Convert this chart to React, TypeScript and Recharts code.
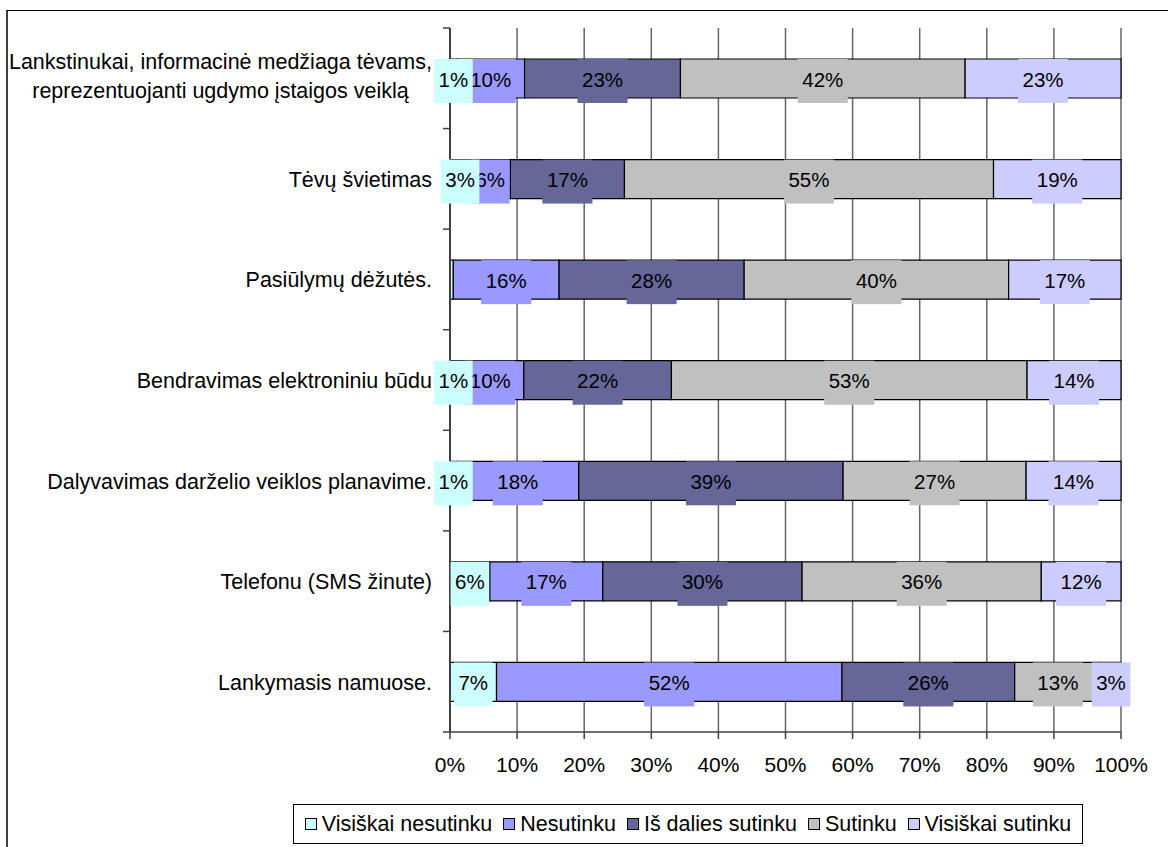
import React from 'react';
import { BarChart, Bar, XAxis, YAxis, CartesianGrid, LabelList } from 'recharts';

// Categories, top to bottom ("\n" = line break in the axis label)
const CATEGORIES = [
  'Lankstinukai, informacinė medžiaga tėvams,\nreprezentuojanti ugdymo įstaigos veiklą',
  'Tėvų švietimas',
  'Pasiūlymų dėžutės.',
  'Bendravimas elektroniniu būdu',
  'Dalyvavimas darželio veiklos planavime.',
  'Telefonu (SMS žinute)',
  'Lankymasis namuose.',
];

// Answer shares in %, same order as CATEGORIES
const VISISKAI_NESUTINKU = [1, 3, 0.5, 1, 1, 6, 7];
const NESUTINKU = [10, 6, 16, 10, 18, 17, 52];
const IS_DALIES_SUTINKU = [23, 17, 28, 22, 39, 30, 26];
const SUTINKU = [42, 55, 40, 53, 27, 36, 13];
const VISISKAI_SUTINKU = [23, 19, 17, 14, 14, 12, 3];

const SERIES_NAMES = ['Visiškai nesutinku', 'Nesutinku', 'Iš dalies sutinku', 'Sutinku', 'Visiškai sutinku'];
const SERIES_VALUES = [VISISKAI_NESUTINKU, NESUTINKU, IS_DALIES_SUTINKU, SUTINKU, VISISKAI_SUTINKU];
const COLORS = ['#CCFFFF', '#9999FF', '#666699', '#C0C0C0', '#CCCCFF'];

const X_TICKS = [0, 10, 20, 30, 40, 50, 60, 70, 80, 90, 100];

const FONT = "'Liberation Sans', Arial, Helvetica, sans-serif";
const CAT_FONT = 21.5;
const TICK_FONT = 21;
const LABEL_FONT = 20.5;
const LEGEND_FONT = 21.5;

const W = 1168;
const H = 847;
const MARGIN = { top: 28, right: 47, bottom: 65, left: 10 };
const Y_AXIS_W = 440;
const X_AXIS_H = 50;
const PLOT_H = H - MARGIN.top - MARGIN.bottom - X_AXIS_H;
const BAND = PLOT_H / CATEGORIES.length;
const TICK_GAP = 18;

const keys = SERIES_NAMES.map((_, i) => `s${i}`);

const data = CATEGORIES.map((name, r) => {
  const row: Record<string, any> = { name };
  SERIES_VALUES.forEach((vals, i) => {
    row[keys[i]] = vals[r];
  });
  return row;
});

let ctx: CanvasRenderingContext2D | null = null;
const textWidth = (s: string, size: number) => {
  if (!ctx) ctx = document.createElement('canvas').getContext('2d');
  if (!ctx) return s.length * size * 0.55;
  ctx.font = `${size}px ${FONT}`;
  return ctx.measureText(s).width;
};

// boxed value label; the label stack is drawn after the bars so boxes sit on top
const makeLabel = (color: string) => (props: any) => {
  const vb = props.viewBox || props;
  const { x, y, width, height } = vb;
  const value = Number(props.value);
  if (!isFinite(value) || value < 1) return null;
  const text = `${Math.round(value)}%`;
  const w = textWidth(text, LABEL_FONT) + 9;
  const cx = x + width / 2;
  return (
    <g>
      <rect x={cx - w / 2} y={y} width={w} height={height + 5} fill={color} />
      <text x={cx} y={y + height / 2 + 8} textAnchor="middle" fontSize={LABEL_FONT} fontFamily={FONT} fill="#000">
        {text}
      </text>
    </g>
  );
};

const CategoryTick = (props: any) => {
  const { x, y, payload, index } = props;
  const lines = String(payload.value).split('\n');
  const axisX = x + TICK_GAP;
  const blockW = Math.max(...lines.map((l) => textWidth(l, CAT_FONT)));
  const lineH = 29;
  const startY = y - ((lines.length - 1) * lineH) / 2 + 8 - (lines.length > 1 ? 3 : 0);
  return (
    <g>
      <line x1={axisX - 7} x2={axisX} y1={y - BAND / 2} y2={y - BAND / 2} stroke="#404040" strokeWidth={1.5} />
      {index === CATEGORIES.length - 1 && (
        <line x1={axisX - 7} x2={axisX} y1={y + BAND / 2} y2={y + BAND / 2} stroke="#404040" strokeWidth={1.5} />
      )}
      {lines.map((l, i) => (
        <text
          key={i}
          x={lines.length > 1 ? x - blockW / 2 : x}
          y={startY + i * lineH}
          textAnchor={lines.length > 1 ? 'middle' : 'end'}
          fontSize={CAT_FONT}
          fontFamily={FONT}
          fill="#000"
        >
          {l}
        </text>
      ))}
    </g>
  );
};

const LegendBox = () => (
  <div
    style={{
      position: 'absolute',
      left: 293,
      top: 804,
      width: 790,
      height: 40,
      boxSizing: 'border-box',
      border: '1px solid #000',
      background: '#fff',
      display: 'flex',
      alignItems: 'center',
      justifyContent: 'center',
      fontFamily: FONT,
      fontSize: LEGEND_FONT,
      color: '#000',
      whiteSpace: 'nowrap',
    }}
  >
    {SERIES_NAMES.map((n, i) => (
      <span key={n} style={{ display: 'inline-flex', alignItems: 'center', marginLeft: i > 0 ? 11 : 0 }}>
        <span
          style={{
            display: 'inline-block',
            boxSizing: 'border-box',
            width: 12,
            height: 12,
            border: '1px solid #000',
            background: COLORS[i],
            marginRight: 5,
          }}
        />
        {n}
      </span>
    ))}
  </div>
);

export default function App() {
  return (
    <div style={{ position: 'fixed', left: 0, top: 0, width: W, height: H, overflow: 'hidden', background: '#fff' }}>
      <div
        style={{
          position: 'absolute',
          left: 6,
          top: 10,
          width: W - 6,
          height: H - 10,
          boxSizing: 'border-box',
          borderLeft: '2px solid #404040',
          borderTop: '1px solid #000',
        }}
      />
      <div style={{ position: 'absolute', left: 0, top: 0 }}>
        <BarChart width={W} height={H} data={data} layout="vertical" stackOffset="expand" margin={MARGIN}>
          <CartesianGrid horizontal={false} vertical stroke="#666" strokeWidth={1.5} />
          <XAxis
            type="number"
            domain={[0, 1]}
            ticks={X_TICKS.map((t) => t / 100)}
            tickFormatter={(v: number) => `${Math.round(v * 100)}%`}
            height={X_AXIS_H}
            tickSize={7}
            tickMargin={18}
            axisLine={{ stroke: '#404040', strokeWidth: 1.5 }}
            tickLine={{ stroke: '#404040', strokeWidth: 1.5 }}
            tick={{ fontSize: TICK_FONT, fontFamily: FONT, fill: '#000' }}
            interval={0}
          />
          <XAxis
            xAxisId="top"
            orientation="top"
            type="number"
            domain={[0, 1]}
            height={0}
            tick={false}
            tickLine={false}
            axisLine={{ stroke: '#8a8a8a', strokeWidth: 2 }}
          />
          {/* hidden reversed axis for the label stack: series are stacked from the right
              so the first series' labels are painted last, as in the reference */}
          <XAxis xAxisId="lbl" type="number" domain={[0, 1]} reversed hide />
          <YAxis
            type="category"
            dataKey="name"
            width={Y_AXIS_W}
            tickSize={0}
            tickMargin={TICK_GAP}
            tickLine={false}
            axisLine={{ stroke: '#404040', strokeWidth: 2 }}
            tick={<CategoryTick />}
            interval={0}
          />
          <YAxis yAxisId="lbl" type="category" dataKey="name" hide />
          {keys.map((k, i) => (
            <Bar
              key={k}
              dataKey={k}
              name={SERIES_NAMES[i]}
              stackId="a"
              fill={COLORS[i]}
              stroke="#000"
              strokeWidth={1.2}
              barSize={39}
              isAnimationActive={false}
            />
          ))}
          {keys
            .map((k, i) => ({ k, i }))
            .reverse()
            .map(({ k, i }) => (
              <Bar
                key={`lbl-${k}`}
                xAxisId="lbl"
                yAxisId="lbl"
                dataKey={k}
                stackId="lbl"
                fill="none"
                stroke="none"
                barSize={39}
                isAnimationActive={false}
                legendType="none"
              >
                <LabelList dataKey={k} content={makeLabel(COLORS[i])} />
              </Bar>
            ))}
        </BarChart>
      </div>
      <LegendBox />
    </div>
  );
}
